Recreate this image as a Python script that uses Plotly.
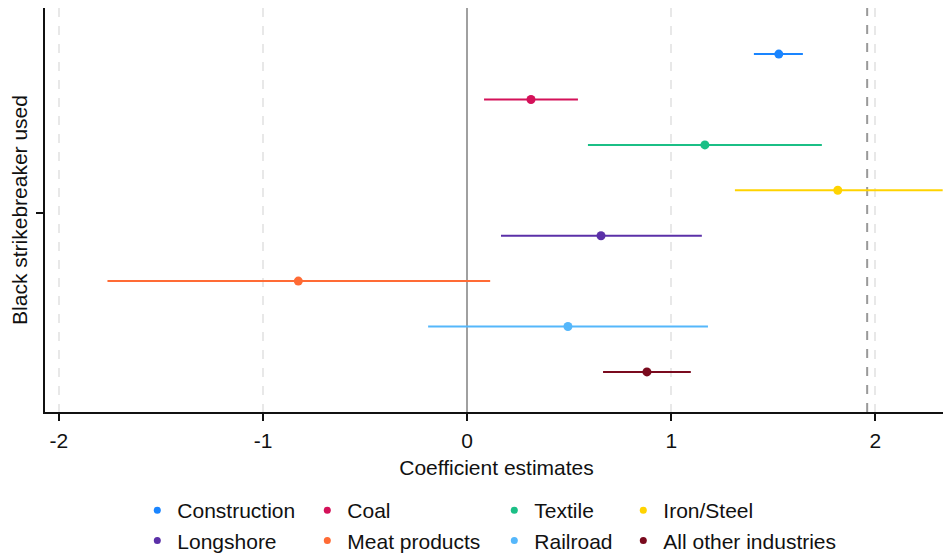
import plotly.graph_objects as go

industries = ["Construction", "Coal", "Textile", "Iron/Steel",
              "Longshore", "Meat products", "Railroad", "All other industries"]
estimates = [1.527, 0.313, 1.165, 1.816, 0.656, -0.827, 0.494, 0.881]
ci_low = [1.405, 0.083, 0.592, 1.312, 0.166, -1.762, -0.191, 0.666]
ci_high = [1.645, 0.543, 1.738, 2.330, 1.150, 0.113, 1.180, 1.096]
offsets = [3.5, 2.5, 1.5, 0.5, -0.5, -1.5, -2.5, -3.5]
colors = ["#1a85ff", "#d41159", "#1bbf86", "#ffd300",
          "#5b30a8", "#ff6b35", "#55b7fb", "#7a0a1e"]
x_ticks = [-2, -1, 0, 1, 2]
crit_value = 1.96

FONT = "Liberation Sans, Arial, Helvetica, sans-serif"
W, H = 951, 557
ML, MR, MT, MB = 37, 11, 0, 153
PW, PH = W - ML - MR, H - MT - MB

fig = go.Figure()
for i, name in enumerate(industries):
    fig.add_trace(go.Scatter(
        x=[estimates[i]], y=[offsets[i]], mode="markers",
        marker=dict(color=colors[i], size=9),
        error_x=dict(type="data", symmetric=False,
                     array=[ci_high[i] - estimates[i]],
                     arrayminus=[estimates[i] - ci_low[i]],
                     color=colors[i], thickness=2, width=0),
        showlegend=False, hoverinfo="skip"))

# legend entries in four columns
for i, name in enumerate(industries):
    col = i % 4
    fig.add_trace(go.Scatter(
        x=[None], y=[None], mode="markers", name=name,
        marker=dict(color=colors[i], size=7),
        legend="legend" if col == 0 else f"legend{col+1}"))

col_dot_px = [151, 321, 508, 637]
legend_top_px = 482
legends = {}
for c in range(4):
    key = "legend" if c == 0 else f"legend{c+1}"
    legends[key] = dict(orientation="v",
                        yanchor="top", y=(H - MB - legend_top_px) / PH,
                        xanchor="left", x=(col_dot_px[c] - 21.7 - ML) / PW,
                        font=dict(family=FONT, size=21, color="#111"),
                        bgcolor="rgba(0,0,0,0)", tracegroupgap=0, itemwidth=30)

fig.update_layout(
    width=W, height=H,
    margin=dict(l=ML, r=MR, t=MT, b=MB, autoexpand=False),
    plot_bgcolor="white", paper_bgcolor="white",
    font=dict(family=FONT, size=21, color="#111"),
    xaxis=dict(range=[-2.068, 2.356], tickvals=x_ticks,
               ticktext=[str(t) for t in x_ticks], automargin=False,
               ticks="outside", ticklen=7, tickcolor="#111", tickwidth=1.5,
               ticklabelstandoff=2,
               showline=True, linecolor="#111", linewidth=1.5,
               showgrid=True, gridcolor="#e8e8e8", gridwidth=1.5, griddash="dash",
               zeroline=True, zerolinecolor="#a0a0a0", zerolinewidth=2,
               title=dict(text="Coefficient estimates", standoff=9,
                          font=dict(size=21)),
               tickfont=dict(size=21)),
    yaxis=dict(range=[-4.383, 4.515], tickvals=[0], ticktext=[""], automargin=False,
               ticks="outside", ticklen=7, tickcolor="#111", tickwidth=1.5,
               showline=True, linecolor="#111", linewidth=1.5,
               showgrid=False, zeroline=False,
               title=dict(text="Black strikebreaker used", standoff=1,
                          font=dict(size=21))),
    shapes=[dict(type="line", xref="x", yref="paper", x0=crit_value, x1=crit_value,
                 y0=0, y1=1, line=dict(color="#999999", width=2, dash="dash"),
                 layer="below")],
    **legends,
)

fig.write_html("out.html")
